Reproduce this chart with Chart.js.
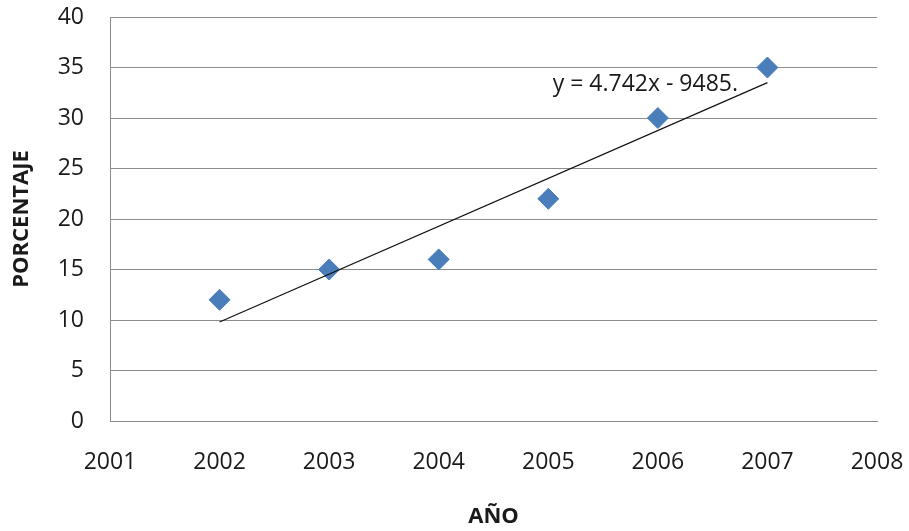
<!DOCTYPE html>
<html>
<head>
<meta charset="utf-8">
<script src="https://cdn.jsdelivr.net/npm/chart.js@4/dist/chart.umd.min.js"></script>
<style>
    html, body { margin: 0; padding: 0; background: #fff; }
    #wrap { width: 909px; height: 531px; }
</style>
</head>
<body>
<div id="wrap"><canvas id="trendChart"></canvas></div>
<script>
// Percentages per year
const years = [2002, 2003, 2004, 2005, 2006, 2007];
const percentages = [12, 15, 16, 22, 30, 35];

// Linear trend line end points
const trendYears = [2002, 2007];
const trendValues = [9.8, 33.5];
const trendLabel = 'y = 4.742x - 9485.';

// Axis ranges
const xRange = [2001, 2008];
const yRange = [0, 40];

const FONT = "'Open Sans', 'Liberation Sans', sans-serif";
const GRID = '#8c8c8c';
const TEXT = '#1a1a1a';

// Equation text next to the trend line
const equationLabel = {
    id: 'equationLabel',
    afterDatasetsDraw(chart) {
        const { ctx, scales } = chart;
        ctx.save();
        ctx.font = `23px ${FONT}`;
        ctx.fillStyle = TEXT;
        ctx.textAlign = 'left';
        ctx.textBaseline = 'middle';
        ctx.fillText(trendLabel, scales.x.getPixelForValue(2005.04), scales.y.getPixelForValue(33.3));
        ctx.restore();
    }
};

const ctx = document.getElementById('trendChart').getContext('2d');
new Chart(ctx, {
    type: 'scatter',
    data: {
        datasets: [
            {
                label: 'Tendencia',
                data: trendYears.map((x, i) => ({ x, y: trendValues[i] })),
                showLine: true,
                borderColor: '#111',
                borderWidth: 1.2,
                pointRadius: 0,
                fill: false
            },
            {
                label: 'PORCENTAJE',
                data: years.map((x, i) => ({ x, y: percentages[i] })),
                pointStyle: 'rectRot',
                pointRadius: 10.5,
                pointHoverRadius: 10.5,
                backgroundColor: '#4a7ebb',
                borderColor: '#4a7ebb',
                borderWidth: 1
            }
        ]
    },
    options: {
        responsive: true,
        maintainAspectRatio: false,
        animation: false,
        layout: { padding: { top: 17, right: 32, left: 0, bottom: 0 } },
        plugins: {
            legend: { display: false },
            tooltip: { enabled: false }
        },
        scales: {
            x: {
                type: 'linear',
                min: xRange[0],
                max: xRange[1],
                afterFit: (scale) => {
                    scale.height = 110;
                    scale.paddingLeft = 0;
                    scale.paddingRight = 0;
                },
                grid: { display: false, drawTicks: false },
                border: { display: true, color: GRID, width: 1 },
                ticks: {
                    stepSize: 1,
                    padding: 28,
                    color: TEXT,
                    font: { family: FONT, size: 23 },
                    callback: (v) => String(v)
                },
                title: {
                    display: true,
                    text: 'AÑO',
                    color: TEXT,
                    font: { family: FONT, size: 22, weight: 'bold' },
                    padding: { top: 0, bottom: 1 }
                }
            },
            y: {
                min: yRange[0],
                max: yRange[1],
                afterFit: (scale) => {
                    scale.width = 110;
                    scale.paddingTop = 0;
                    scale.paddingBottom = 0;
                },
                grid: { color: GRID, lineWidth: 1, drawTicks: false },
                border: { display: true, color: GRID, width: 1 },
                ticks: {
                    stepSize: 5,
                    padding: 26,
                    color: TEXT,
                    font: { family: FONT, size: 23 }
                },
                title: {
                    display: true,
                    text: 'PORCENTAJE',
                    color: TEXT,
                    font: { family: FONT, size: 22, weight: 'bold' },
                    padding: { top: 9, bottom: 0 }
                }
            }
        }
    },
    plugins: [equationLabel]
});
</script>
</body>
</html>
